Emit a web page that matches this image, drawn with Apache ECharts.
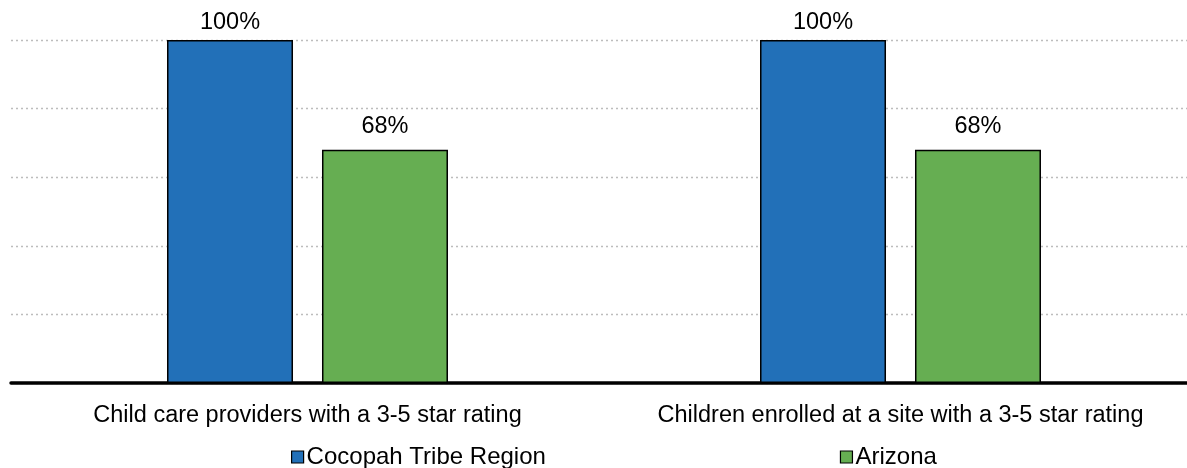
<!DOCTYPE html>
<html>
<head>
<meta charset="utf-8">
<script src="https://cdn.jsdelivr.net/npm/echarts@6/dist/echarts.min.js"></script>
<style>
  html, body { margin: 0; padding: 0; background: #fff; overflow: hidden; }
  #chart { width: 1197px; height: 468px; }
</style>
</head>
<body>
<div id="chart"></div>
<script>
// categories and series values (percent)
var categories = ['Child care providers with a 3-5 star rating', 'Children enrolled at a site with a 3-5 star rating'];
var cocopahValues = [100, 100];
var arizonaValues = [68, 68];
var seriesNames = ['Cocopah Tribe Region', 'Arizona'];

var FONT = '"Liberation Sans", Arial, sans-serif';

var chart = echarts.init(document.getElementById('chart'));

function barLabel(dist) {
    return {
        show: true,
        position: 'top',
        distance: dist,
        color: '#000',
        fontFamily: FONT,
        fontSize: 23.5,
        backgroundColor: '#fff',
        padding: [0, 4],
        formatter: function (p) { return p.value + '%'; }
    };
}

chart.setOption({
    animation: false,
    backgroundColor: '#fff',
    // plot runs past the right edge of the window, like the original
    grid: { left: 11, right: 0, top: 40, bottom: 85, containLabel: false },
    legend: {
        data: seriesNames,
        left: 286,
        top: 440,
        itemWidth: 12,
        itemHeight: 12,
        itemGap: 294,
        icon: 'rect',
        itemStyle: { borderColor: '#000', borderWidth: 1.2 },
        textStyle: { fontFamily: FONT, fontSize: 24, color: '#000', padding: [0, 0, 0, -2] }
    },
    xAxis: {
        type: 'category',
        data: categories,
        axisLine: { lineStyle: { color: '#000', width: 3.5 } },
        axisTick: { show: false },
        axisLabel: { interval: 0, color: '#000', fontFamily: FONT, fontSize: 23.5, margin: 21 }
    },
    yAxis: {
        type: 'value',
        min: 0,
        max: 100,
        interval: 20,
        axisLine: { show: false },
        axisTick: { show: false },
        axisLabel: { show: false },
        splitLine: { lineStyle: { color: '#bdbdbd', type: [2, 3], width: 1.3 } }
    },
    series: [
        {
            name: seriesNames[0],
            type: 'bar',
            data: cocopahValues,
            barWidth: 126,
            barGap: '23%',
            itemStyle: { color: '#2270B8', borderColor: '#000', borderWidth: 1.5 },
            label: barLabel(5),
            z: 3
        },
        {
            name: seriesNames[1],
            type: 'bar',
            data: arizonaValues,
            barWidth: 126,
            itemStyle: { color: '#66AE52', borderColor: '#000', borderWidth: 1.5 },
            label: barLabel(11),
            z: 3
        }
    ]
});
</script>
</body>
</html>
